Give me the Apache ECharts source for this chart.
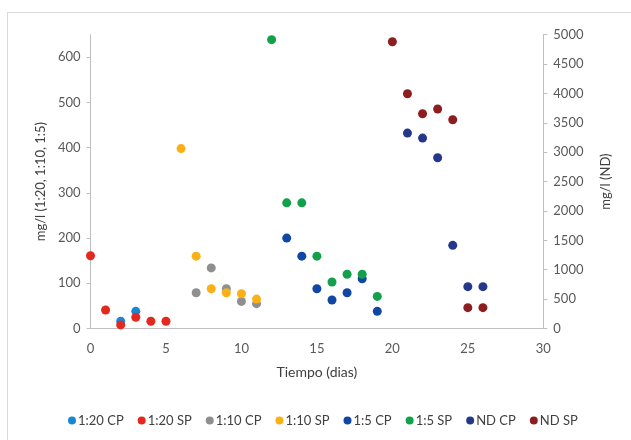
<!DOCTYPE html>
<html>
<head>
<meta charset="utf-8">
<script src="https://cdn.jsdelivr.net/npm/echarts@6/dist/echarts.min.js"></script>
<style>
  html, body { margin: 0; padding: 0; background: #ffffff; }
  #frame { position: absolute; left: 7px; top: 12px; width: 640px; height: 440px; border: 1px solid #d9d9d9; box-sizing: border-box; }
  #chart { position: absolute; left: 0; top: 0; width: 631px; height: 440px; }
</style>
</head>
<body>
<div id="frame"></div>
<div id="chart"></div>
<script>
// Concentration over time (days) for each dilution, with/without P.
// Dilution series use the left axis; ND series use the right axis.
const seriesNames = ['1:20 CP', '1:20 SP', '1:10 CP', '1:10 SP', '1:5 CP', '1:5 SP', 'ND CP', 'ND SP'];
const seriesColors = ['#1a87d3', '#e5281d', '#8f8f8f', '#fbb116', '#1246a6', '#12a04a', '#25378a', '#8c1e1f'];

const days_120CP = [2, 3];
const vals_120CP = [16, 38];
const days_120SP = [0, 1, 2, 3, 4, 5];
const vals_120SP = [161, 41, 8, 25, 16, 16];
const days_110CP = [7, 8, 9, 10, 11];
const vals_110CP = [79, 134, 88, 60, 55];
const days_110SP = [6, 7, 8, 9, 10, 11];
const vals_110SP = [398, 160, 88, 79, 77, 65];
const days_15CP = [13, 14, 15, 16, 17, 18, 19];
const vals_15CP = [200, 160, 88, 63, 79, 110, 38];
const days_15SP = [12, 13, 14, 15, 16, 17, 18, 19];
const vals_15SP = [639, 278, 278, 160, 103, 120, 120, 71];
const days_NDCP = [21, 22, 23, 24, 25, 26];
const vals_NDCP = [3325, 3240, 2905, 1415, 712, 712];
const days_NDSP = [20, 21, 22, 23, 24, 25, 26];
const vals_NDSP = [4880, 3995, 3655, 3735, 3553, 355, 355];

const leftTicks = { min: 0, max: 650, interval: 100 };
const rightTicks = { min: 0, max: 5000, interval: 500 };
const xTicks = { min: 0, max: 30, interval: 5 };

const seriesData = [
  [days_120CP, vals_120CP, 0],
  [days_120SP, vals_120SP, 0],
  [days_110CP, vals_110CP, 0],
  [days_110SP, vals_110SP, 0],
  [days_15CP, vals_15CP, 0],
  [days_15SP, vals_15SP, 0],
  [days_NDCP, vals_NDCP, 1],
  [days_NDSP, vals_NDSP, 1]
];

const font = 'Lato, "Open Sans", sans-serif';
const axisLine = { show: true, lineStyle: { color: '#bfbfbf', width: 1 } };
const plain = v => String(v);

const chart = echarts.init(document.getElementById('chart'), null, { renderer: 'canvas' });
chart.setOption({
  animation: false,
  textStyle: { fontFamily: font },
  grid: { left: 90.5, right: 87.7, top: 34.7, bottom: 111.5 },
  legend: {
    bottom: 8,
    left: 63,
    icon: 'circle',
    itemWidth: 8,
    itemHeight: 8,
    itemGap: 14,
    textStyle: { fontFamily: font, fontSize: 13, color: '#404040', padding: [0, 0, 0, -3] },
    data: seriesNames
  },
  xAxis: {
    type: 'value',
    min: xTicks.min, max: xTicks.max, interval: xTicks.interval,
    name: 'Tiempo (dias)',
    nameLocation: 'middle',
    nameGap: 37,
    nameTextStyle: { fontFamily: font, fontSize: 14, color: '#404040' },
    axisLine: axisLine,
    axisTick: { show: false },
    splitLine: { show: false },
    axisLabel: { fontFamily: font, fontSize: 13, color: '#595959', margin: 14, formatter: plain }
  },
  yAxis: [
    {
      type: 'value',
      position: 'left',
      min: leftTicks.min, max: leftTicks.max, interval: leftTicks.interval,
      name: 'mg/l (1:20, 1:10, 1:5)',
      nameLocation: 'middle',
      nameGap: 41,
      nameRotate: 90,
      nameTextStyle: { fontFamily: font, fontSize: 13, color: '#404040' },
      axisLine: axisLine,
      axisTick: { show: true, length: 4, lineStyle: { color: '#bfbfbf' } },
      splitLine: { show: false },
      axisLabel: { fontFamily: font, fontSize: 13, color: '#595959', margin: 10, showMaxLabel: false, formatter: plain }
    },
    {
      type: 'value',
      position: 'right',
      min: rightTicks.min, max: rightTicks.max, interval: rightTicks.interval,
      name: 'mg/l (ND)',
      nameLocation: 'middle',
      nameGap: 56,
      nameRotate: 90,
      nameTextStyle: { fontFamily: font, fontSize: 13, color: '#404040' },
      axisLine: axisLine,
      axisTick: { show: true, length: 4, lineStyle: { color: '#bfbfbf' } },
      splitLine: { show: false },
      axisLabel: { fontFamily: font, fontSize: 13, color: '#595959', margin: 10, formatter: plain }
    }
  ],
  series: seriesData.map(([days, vals, axis], i) => ({
    name: seriesNames[i],
    type: 'scatter',
    yAxisIndex: axis,
    symbol: 'circle',
    symbolSize: 9,
    itemStyle: { color: seriesColors[i], opacity: 1 },
    data: days.map((d, k) => [d, vals[k]])
  }))
});
</script>
</body>
</html>
